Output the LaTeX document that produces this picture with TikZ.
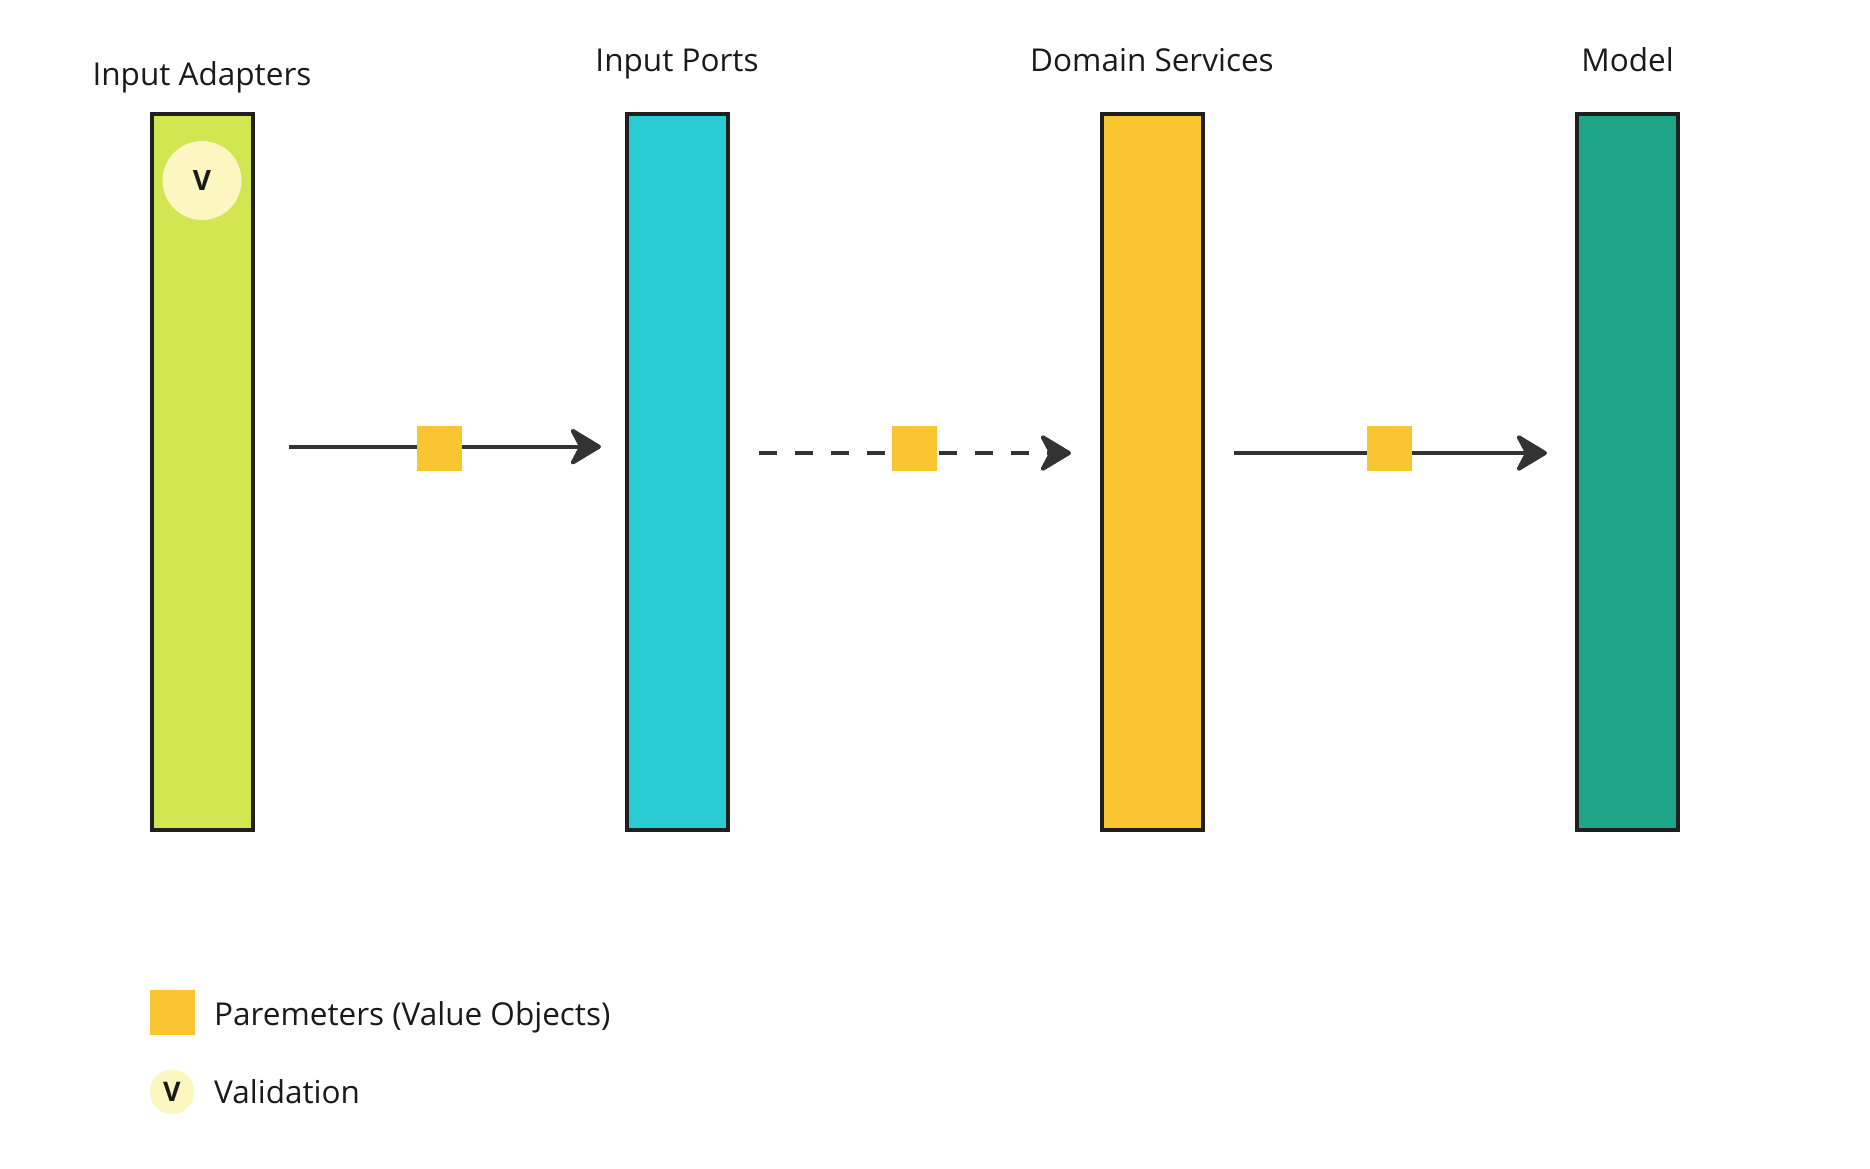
\documentclass[tikz,border=0pt]{standalone}
\usepackage{fontspec}
\setmainfont{Open Sans}
\usetikzlibrary{arrows.meta}
\definecolor{cgreen}{HTML}{D1E651}
\definecolor{ccyan}{HTML}{2ACCD3}
\definecolor{cyellow}{HTML}{F9C631}
\definecolor{cteal}{HTML}{1EA587}
\definecolor{ccircle}{HTML}{FCF7C1}
\definecolor{cborder}{HTML}{1F1F1F}
\definecolor{carrow}{HTML}{333333}
\definecolor{ctext}{HTML}{1A1A1A}
\tikzset{
  bar/.style={draw=cborder, line width=4pt, minimum width=101pt, minimum height=716pt, inner sep=0pt},
  param/.style={fill=cyellow, minimum size=45pt, inner sep=0pt},
  valid/.style={circle, fill=ccircle, inner sep=0pt, text=ctext, font=\bfseries},
  title/.style={anchor=base, text=ctext, inner sep=0pt, font=\fontsize{31.5}{36}\selectfont},
  legtext/.style={anchor=base west, text=ctext, inner sep=0pt, font=\fontsize{31.5}{36}\selectfont},
  arr/.style={draw=carrow, line width=4pt, -{Stealth[length=35pt 0 0, width=42pt 0 0, inset=11pt 0, round]}},
  dasharr/.style={arr, dash pattern=on 18pt off 18pt}
}
\begin{document}
\begin{tikzpicture}[x=1pt, y=-1pt]
\useasboundingbox (0,0) rectangle (1870,1168);
\node[bar, fill=cgreen] (b1) at (202,472) {};
\node[bar, fill=ccyan]  (b2) at (677,472) {};
\node[bar, fill=cyellow](b3) at (1152,472) {};
\node[bar, fill=cteal]  (b4) at (1627.5,472) {};
\node[valid, minimum size=79pt, font=\bfseries\fontsize{28}{30}\selectfont] (v1) at (202,180.5) {V};
\node[title] (t1) at (202,85) {Input Adapters};
\node[title] (t2) at (677,71) {Input Ports};
\node[title] (t3) at (1152,71) {Domain Services};
\node[title] (t4) at (1627.5,71) {Model};
\coordinate (a1s) at (289,446.7);
\coordinate (a1e) at (601,446.7);
\coordinate (a2s) at (759,453);
\coordinate (a2e) at (1071,453);
\coordinate (a3s) at (1234,453);
\coordinate (a3e) at (1547,453);
\draw[arr] (a1s) -- (a1e);
\draw[dasharr] (a2s) -- (a2e);
\draw[arr] (a3s) -- (a3e);
\node[param] (p1) at (439.7,448) {};
\node[param] (p2) at (914.5,448) {};
\node[param] (p3) at (1389.5,448) {};
\node[param] (lp) at (172,1012.5) {};
\node[legtext] (lpt) at (214,1025) {Paremeters (Value Objects)};
\node[valid, minimum size=44.6pt, font=\bfseries\fontsize{27}{30}\selectfont] (lv) at (172,1091.7) {V};
\node[legtext] (lvt) at (214,1103.3) {Validation};
\end{tikzpicture}
\end{document}
